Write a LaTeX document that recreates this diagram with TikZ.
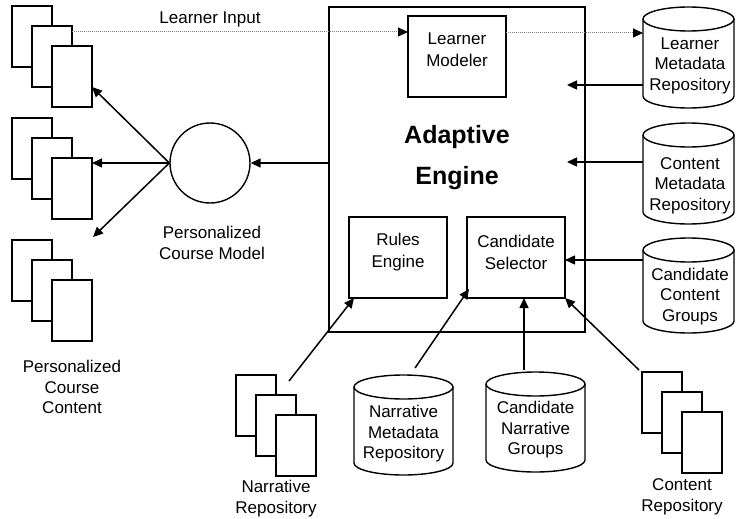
\documentclass[tikz,border=0pt]{standalone}
\usepackage{fontspec}
\setmainfont{Liberation Sans}
\usetikzlibrary{arrows.meta,calc}
\tikzset{
  ln/.style={line width=1.4pt},
  box/.style={draw, line width=1.4pt, inner sep=0pt, outer sep=0pt, anchor=north west},
  page/.style={draw, fill=white, line width=1.3pt, minimum width=40pt, minimum height=61pt, inner sep=0pt, outer sep=0pt, anchor=north west},
  lbl/.style={font=\fontsize{17}{20.5}\selectfont, align=center, inner sep=0pt},
  big/.style={font=\fontsize{25}{30}\selectfont\bfseries, inner sep=0pt, anchor=base},
  arr/.style={line width=1.5pt, -{Triangle[length=10pt,width=9pt]}},
  dotln/.style={draw=gray, line width=1pt, densely dotted, -{Triangle[length=10pt,width=9pt,color=black]}},
}
\newcommand\docstack[3]{%
  \node[page] (#1-1) at (#2,#3) {};
  \node[page] (#1-2) at (#2+20,#3-20) {};
  \node[page] (#1-3) at (#2+40,#3-40) {};
}
\newcommand\cyl[5]{%
  \draw[ln] (#2,-#3-12) -- (#2,-#5+12) arc[start angle=180,end angle=360,x radius={(#4-#2)/2*1pt},y radius=12pt] -- (#4,-#3-12);
  \draw[ln] ({(#2+#4)/2},-#3-12) ellipse[x radius={(#4-#2)/2*1pt}, y radius=12pt];
  \node[inner sep=0pt,outer sep=0pt,minimum width={(#4-#2)*1pt}, minimum height={(#5-#3)*1pt}] (#1) at ({(#2+#4)/2},{-(#3+#5)/2}) {};
}
\begin{document}
\begin{tikzpicture}[x=1pt,y=1pt]
\useasboundingbox (0,0) rectangle (736,-519);

% main boxes
\node[box, minimum width=256pt, minimum height=325pt] (eng) at (329,-7) {};
\node[box, minimum width=98pt, minimum height=81pt] (lm) at (408,-16) {};
\node[box, minimum width=98pt, minimum height=81pt] (re) at (349,-217) {};
\node[box, minimum width=98pt, minimum height=81pt] (cs) at (467,-217) {};

% circle
\node[draw, circle, line width=1.4pt, minimum size=80pt, inner sep=0pt] (pcm) at (210,-163) {};

% cylinders
\cyl{lmr}{643}{7}{734}{108}
\cyl{cmr}{643}{123}{734}{224}
\cyl{ccg}{643}{238}{734}{333}
\cyl{nmr}{354}{375}{453}{475}
\cyl{cnr}{486}{372}{585}{472}

% document stacks
\docstack{pcc1}{12}{-6}
\docstack{pcc2}{12}{-118}
\docstack{pcc3}{12}{-240}
\docstack{nr}{236}{-375}
\docstack{cr}{642}{-372}

% labels
\node[lbl, anchor=base] (li-t) at (210,-24) {Learner Input};
\node[lbl, font=\fontsize{17}{22}\selectfont] (lm-t) at (457,-50) {Learner\\Modeler};
\node[big] (ae1) at (457,-143) {Adaptive};
\node[big] (ae2) at (457,-184) {Engine};
\node[lbl, font=\fontsize{17}{22}\selectfont] (re-t) at (398,-252) {Rules\\Engine};
\node[lbl, font=\fontsize{17}{22}\selectfont] (cs-t) at (516,-252) {Candidate\\Selector};
\node[lbl] (lmr-t) at (690,-65.7) {Learner\\Metadata\\Repository};
\node[lbl] (cmr-t) at (690,-185.5) {Content\\Metadata\\Repository};
\node[lbl] (ccg-t) at (690,-296.5) {Candidate\\Content\\Groups};
\node[lbl] (nmr-t) at (403.5,-434) {Narrative\\Metadata\\Repository};
\node[lbl] (cnr-t) at (535.5,-430) {Candidate\\Narrative\\Groups};
\node[lbl] (pcm-t) at (212,-243) {Personalized\\Course Model};
\node[lbl] (pcc-t) at (72,-387.4) {Personalized\\Course\\Content};
\node[lbl] (nr-t) at (276,-498.7) {Narrative\\Repository};
\node[lbl] (cr-t) at (682,-496.7) {Content\\Repository};

% connectors
\draw[arr] (eng.west |- pcm.east) -- (pcm.east);
\draw[arr] (pcm.west) -- ([yshift=-10.5pt]pcc1-3.east);
\draw[arr] (pcm.west) -- (pcm.west -| pcc2-3.east);
\coordinate (pcc3-tip) at (93,-237);
\draw[arr] (pcm.west) -- (pcc3-tip);

\coordinate (li-a) at ([yshift=-6pt]pcc1-2.north east);
\coordinate (li-b) at ([yshift=-17pt]lm.north east);
\draw[dotln] (li-a) -- (li-a -| lm.west);
\draw[dotln] (li-b) -- (li-b -| lmr.west);

\coordinate (lmr-in) at ([yshift=-27.5pt]lmr.west);
\draw[arr] (lmr-in) -- ($(eng.east |- lmr-in)+(-18,0)$);
\coordinate (cmr-in) at ([yshift=11.5pt]cmr.west);
\draw[arr] (cmr-in) -- ($(eng.east |- cmr-in)+(-18,0)$);
\coordinate (ccg-in) at ([yshift=25.5pt]ccg.west);
\draw[arr] (ccg-in) -- (cs.east |- ccg-in);

\coordinate (nr-out) at (289,-381);
\draw[arr] (nr-out) -- ([xshift=5pt]re.south west);
\draw[arr] ([xshift=11.5pt,yshift=7pt]nmr.north) -- ([xshift=2pt,yshift=9pt]cs.south west);
\draw[arr] ([xshift=-11.5pt,yshift=2pt]cnr.north) -- ([xshift=8pt]cs.south);
\draw[arr] ([xshift=-3pt,yshift=2pt]cr-1.north west) -- (cs.south east);
\end{tikzpicture}
\end{document}
